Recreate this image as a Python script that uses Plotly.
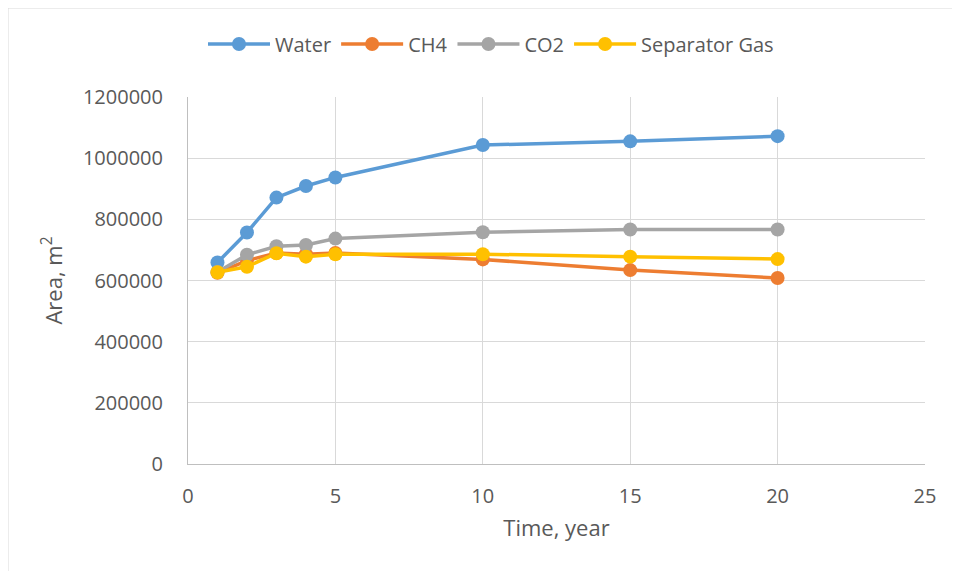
import plotly.graph_objects as go

years = [1, 2, 3, 4, 5, 10, 15, 20]
water = [659000, 757000, 871000, 909000, 937000, 1043000, 1055000, 1072000]
ch4 = [625000, 665000, 690000, 686000, 690000, 669000, 634000, 608000]
co2 = [628000, 684000, 712000, 716000, 737000, 758000, 767000, 767000]
sep_gas = [627000, 645000, 689000, 678000, 686000, 686000, 678000, 670000]

series = [
    ("Water", water, "#5B9BD5"),
    ("CH4", ch4, "#ED7D31"),
    ("CO2", co2, "#A5A5A5"),
    ("Separator Gas", sep_gas, "#FFC000"),
]

FONT = "Open Sans"
TXT = "#595959"

fig = go.Figure()
for name, vals, col in series:
    fig.add_trace(go.Scatter(
        x=years, y=vals, name=name, mode="lines+markers",
        line=dict(color=col, width=3.5),
        marker=dict(color=col, size=14),
    ))

OFF = 8  # page body margin
W, H = 944, 563
L, R, T, B = 180, 27, 89, 107
pw, ph = W - L - R, H - T - B

def px(x):
    return (x - OFF - L) / pw

def py(y):
    return (H - B - (y - OFF)) / ph

fig.update_layout(
    width=W, height=H,
    margin=dict(l=L, r=R, t=T, b=B),
    paper_bgcolor="white", plot_bgcolor="white",
    font=dict(family=FONT, size=20, color=TXT),
    showlegend=True,
    legend=dict(orientation="h", x=px(491), xanchor="center", y=py(44), yanchor="middle",
                font=dict(family=FONT, size=20, color=TXT), itemwidth=62,
                bgcolor="rgba(0,0,0,0)"),
    xaxis=dict(range=[0, 25], dtick=5, tick0=0, showgrid=True, gridcolor="#D9D9D9",
               gridwidth=1, showline=True, linecolor="#BFBFBF", linewidth=1,
               zeroline=False, ticks="", ticklabelstandoff=14,
               title=dict(text="Time, year", standoff=12,
                          font=dict(family=FONT, size=22, color=TXT))),
    yaxis=dict(range=[0, 1200000], dtick=200000, showgrid=True, gridcolor="#D9D9D9",
               gridwidth=1, showline=True, linecolor="#BFBFBF", linewidth=1,
               zeroline=False, ticks="", tickformat="d", ticklabelstandoff=20,
               title=dict(text="Area, m<sup>2</sup>", standoff=14,
                          font=dict(family=FONT, size=22, color=TXT))),
    shapes=[dict(type="rect", xref="paper", yref="paper",
                 x0=px(8), x1=px(965), y0=py(585), y1=py(8),
                 line=dict(color="#D9D9D9", width=1), layer="below")],
)

fig.write_html("out.html")
